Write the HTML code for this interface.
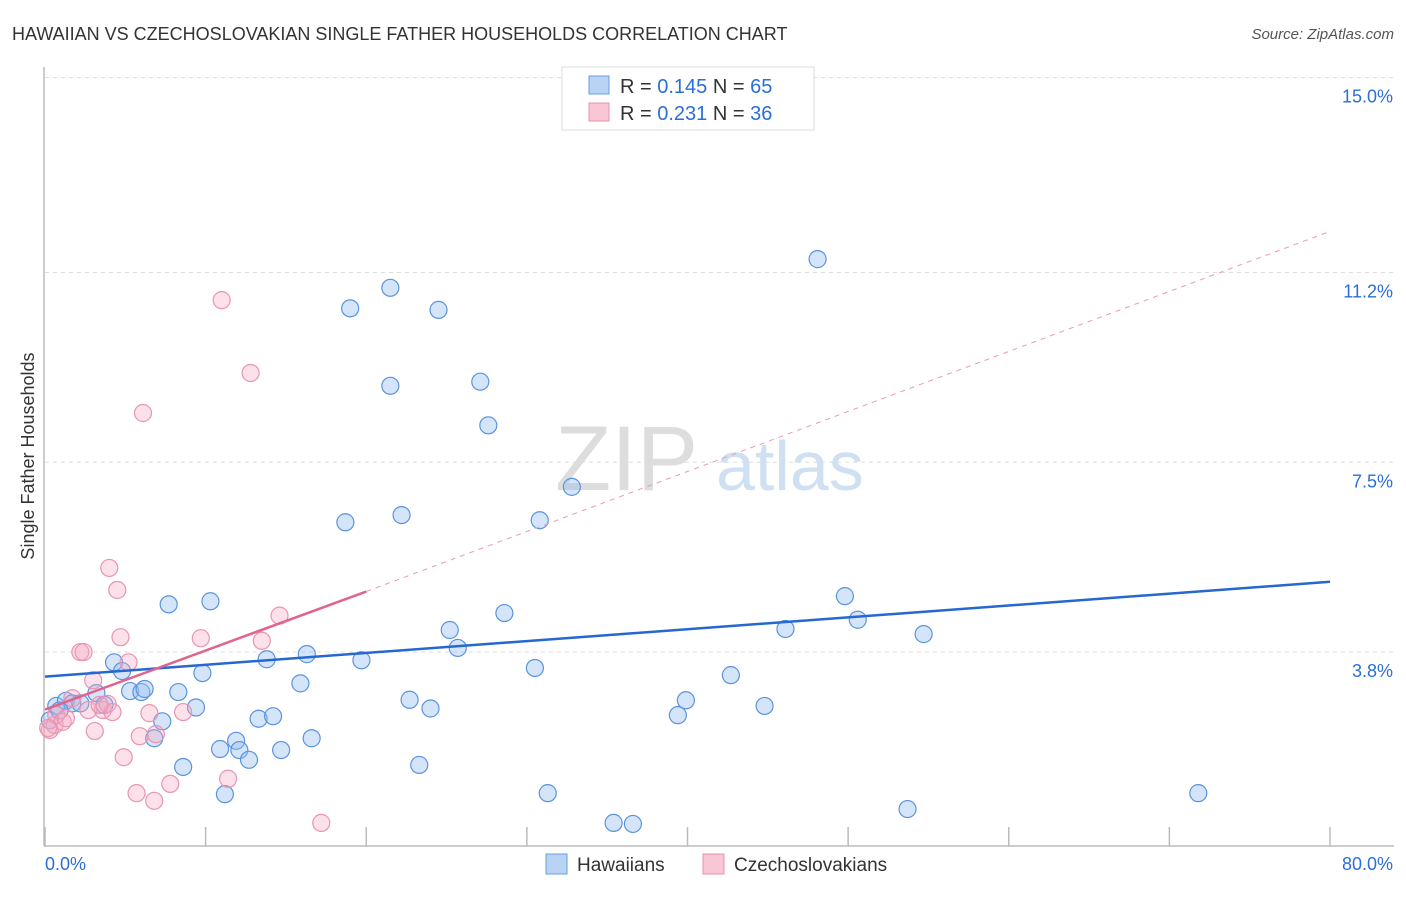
<!DOCTYPE html>
<html><head><meta charset="utf-8"><style>
body{margin:0;background:#fff;font-family:"Liberation Sans",sans-serif;}
svg text{font-family:"Liberation Sans",sans-serif;}
</style></head><body>
<svg id="chart" width="1406" height="892" xmlns="http://www.w3.org/2000/svg">
<text x="12" y="40" font-size="18" fill="#333">HAWAIIAN VS CZECHOSLOVAKIAN SINGLE FATHER HOUSEHOLDS CORRELATION CHART</text>
<text x="1394" y="39" font-size="15" fill="#555" text-anchor="end" font-style="italic">Source: ZipAtlas.com</text>
<g id="grid"></g>
<g><text x="555" y="490" font-size="92" fill="#ddd" font-family="Liberation Serif">ZIP</text><text x="716" y="490" font-size="70" fill="#cfe0f3">atlas</text></g>
<g id="axes"></g>
<g id="pts"></g>
<g id="lines"></g>
<text transform="translate(34,456) rotate(-90)" font-size="18" fill="#333" text-anchor="middle">Single Father Households</text>
<g>
<rect x="562" y="67" width="252" height="63" fill="#fff" stroke="#ddd"/>
<rect x="589" y="76" width="20" height="18" fill="#b8d3f4" stroke="#6a9de0"/>
<text x="620" y="93" font-size="20" fill="#333">R = <tspan fill="#2b6fd6">0.145</tspan>   N = <tspan fill="#2b6fd6">65</tspan></text>
<rect x="589" y="103" width="20" height="18" fill="#f8c6d5" stroke="#e891ad"/>
<text x="620" y="120" font-size="20" fill="#333">R = <tspan fill="#2b6fd6">0.231</tspan>   N = <tspan fill="#2b6fd6">36</tspan></text>
</g>
<g>
<rect x="546" y="854" width="21" height="20" fill="#b8d3f4" stroke="#6a9de0"/>
<text x="577" y="871" font-size="19" fill="#333">Hawaiians</text>
<rect x="703" y="854" width="21" height="20" fill="#f8c6d5" stroke="#e891ad"/>
<text x="734" y="871" font-size="19" fill="#333">Czechoslovakians</text>
</g>
</svg>
<script>
const yTicks=[3.8,7.5,11.2,15.0];
const yTickLabels=["3.8%","7.5%","11.2%","15.0%"];
const xTicks=[0,10,20,30,40,50,60,70,80];
const hawX=[0.7,1.3,1.7,2.2,3.2,3.7,4.3,4.8,5.3,6.0,6.2,6.8,7.3,7.7,8.3,8.6,9.4,9.8,10.3,10.9,11.2,11.9,12.1,12.7,13.3,13.8,14.2,14.7,15.9,16.3,16.6,18.7,19.0,19.7,21.5,21.5,22.2,22.7,23.3,24.0,24.5,25.2,25.7,27.1,27.6,28.6,30.5,30.8,31.3,32.8,35.4,36.6,39.4,39.9,42.7,44.8,46.1,48.1,49.8,50.6,53.7,54.7,71.8,0.3,0.9];
const hawY=[2.75,2.85,2.8,2.8,3.0,2.77,3.6,3.43,3.04,3.02,3.08,2.12,2.45,4.73,3.02,1.56,2.72,3.39,4.79,1.91,1.03,2.07,1.89,1.70,2.50,3.66,2.55,1.89,3.19,3.76,2.12,6.33,10.5,3.64,10.9,8.99,6.47,2.87,1.60,2.70,10.47,4.23,3.88,9.07,8.22,4.56,3.49,6.37,1.05,7.02,0.47,0.45,2.57,2.86,3.35,2.75,4.25,11.46,4.89,4.43,0.74,4.15,1.05,2.47,2.66];
const czX=[0.3,0.6,0.7,1.1,1.3,1.7,2.2,2.4,3.0,3.1,3.6,3.9,4.0,4.2,4.5,4.7,4.9,5.2,5.7,5.9,6.1,6.5,6.8,6.9,7.8,8.6,9.7,11.0,11.4,12.8,13.5,14.6,17.2,0.2,2.7,3.4];
const czY=[2.28,2.38,2.57,2.44,2.51,2.90,3.80,3.80,3.25,2.26,2.67,2.79,5.44,2.63,5.01,4.09,1.75,3.60,1.05,2.16,8.46,2.61,0.90,2.20,1.23,2.63,4.07,10.66,1.33,9.24,4.02,4.51,0.47,2.32,2.67,2.77];
const hawTrend=[0,3.32,80,5.17];
const czTrend=[0,2.68,20,4.98,80,12.0];
const NS="http://www.w3.org/2000/svg";
const X0=45,X1=1330,Y0=847,PPY=51.3;
function sx(v){return X0+(X1-X0)*v/80;}
function sy(v){return Y0-v*PPY;}
function mk(tag,attrs,parent){const e=document.createElementNS(NS,tag);for(const k in attrs)e.setAttribute(k,attrs[k]);parent.appendChild(e);return e;}
const grid=document.getElementById('grid'),axes=document.getElementById('axes'),pts=document.getElementById('pts'),lines=document.getElementById('lines');
yTicks.forEach((t,i)=>{
 const l=mk('line',{x1:X0,x2:1394,y1:sy(t),y2:sy(t),stroke:'#ddd','stroke-dasharray':'4,4'},grid);
 
 
 const tx=mk('text',{x:1393,y:sy(t)+25,'font-size':18,fill:'#2b6fd6','text-anchor':'end'},axes);
 tx.textContent=yTickLabels[i];
 
 
});
mk('line',{x1:X0-1,x2:X0-1,y1:67,y2:846,stroke:'#bbb','stroke-width':1.5},axes);
mk('line',{x1:X0-1,x2:1394,y1:846,y2:846,stroke:'#bbb','stroke-width':1.5},axes);
xTicks.forEach(t=>{
 const l=mk('line',{x1:sx(t),x2:sx(t),y1:827,y2:846,stroke:'#bbb','stroke-width':1.5},axes);
 
 
});
const xl0=mk('text',{x:45,y:870,'font-size':18,fill:'#2b6fd6'},axes);xl0.textContent='0.0%';


const xl1=mk('text',{x:1393,y:870,'font-size':18,fill:'#2b6fd6','text-anchor':'end'},axes);xl1.textContent='80.0%';


hawX.forEach((v,i)=>{
 const c=mk('circle',{cx:sx(v),cy:sy(hawY[i]),r:8.5,fill:'rgba(150,190,240,0.4)',stroke:'#5b93de','stroke-width':1.2},pts);
 
 
});
czX.forEach((v,i)=>{
 const c=mk('circle',{cx:sx(v),cy:sy(czY[i]),r:8.5,fill:'rgba(245,170,195,0.35)',stroke:'#e895b0','stroke-width':1.2},pts);
 
 
});
const bl=mk('line',{x1:sx(hawTrend[0]),y1:sy(hawTrend[1]),x2:sx(hawTrend[2]),y2:sy(hawTrend[3]),stroke:'#2468d0','stroke-width':2.5},lines);


const pd=mk('line',{x1:sx(czTrend[2]),y1:sy(czTrend[3]),x2:sx(czTrend[4]),y2:sy(czTrend[5]),stroke:'#e8a0b8','stroke-width':1,'stroke-dasharray':'5,5'},lines);


const pl=mk('line',{x1:sx(czTrend[0]),y1:sy(czTrend[1]),x2:sx(czTrend[2]),y2:sy(czTrend[3]),stroke:'#e0648e','stroke-width':2.5},lines);


</script>
</body></html>
